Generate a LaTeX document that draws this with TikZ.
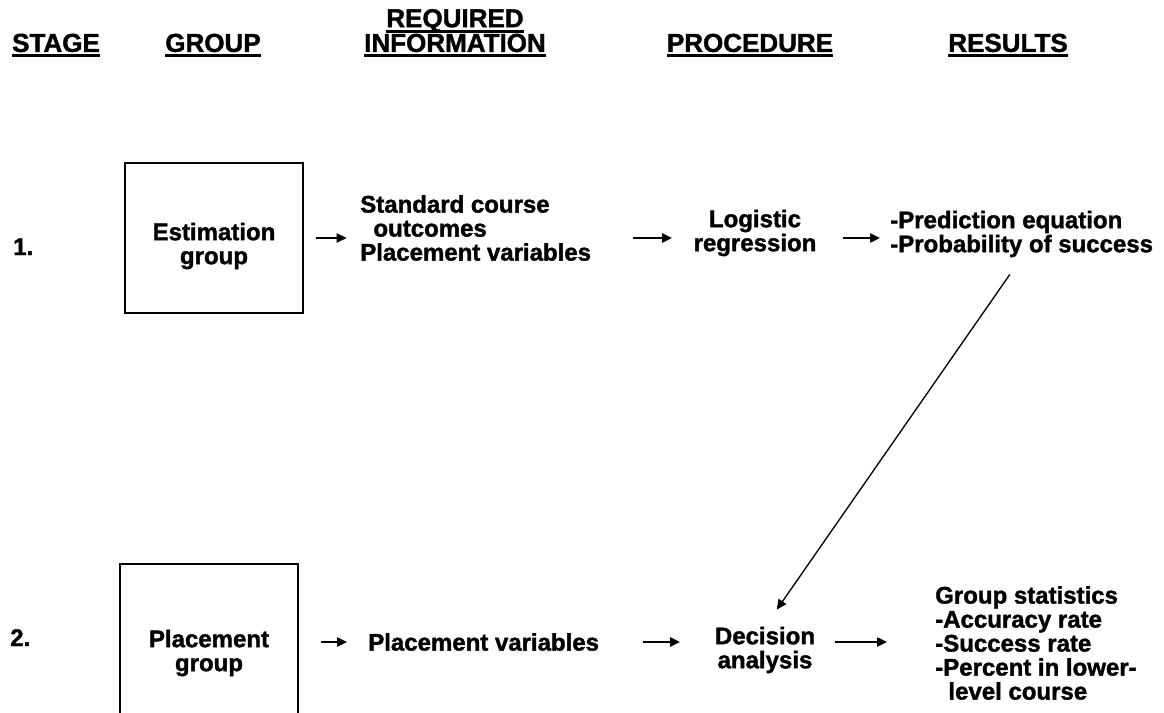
\documentclass[tikz,border=0pt]{standalone}
\usepackage{fontspec}
\setmainfont{Liberation Sans}[BoldFeatures={FakeBold=1.5}]
\usetikzlibrary{arrows.meta, positioning}
\newcommand{\hdrul}[1]{\setbox0\hbox{#1}\rlap{\rule[-4pt]{\wd0}{2.2pt}}\box0}
\tikzset{
    font=\bfseries\fontsize{18}{18}\selectfont,
    % --- labels ---
    header/.style={inner sep=0pt, align=center, anchor=south,
        font=\bfseries\fontsize{19.5}{18.5}\selectfont},
    stageNum/.style={inner sep=0pt, anchor=base west},
    infoText/.style={inner sep=0pt, align=left, anchor=west},
    procText/.style={inner sep=0pt, align=center},
    %
    % --- group boxes ---
    groupBox/.style={
        rectangle, draw, line width=1pt,
        minimum width=133.5pt, inner sep=0pt
    },
    %
    % --- arrows ---
    conn/.style={
        draw, line width=1pt,
        -{Triangle[length=7.5pt, width=7pt]}
    }
}

\begin{document}
\begin{tikzpicture}[x=0.75pt, y=-0.75pt]
	\useasboundingbox (0,0) rectangle (1164,713);
	\clip (0,0) rectangle (1164,713);

	% =========================================
	% 1. column headers
	% =========================================
	\node [header] (hStage) at (56,57.5) {\hdrul{STAGE}};
	\node [header] (hGroup) at (213,57.5) {\hdrul{GROUP}};
	\node [header] (hInfo) at (455,57.5) {\hdrul{REQUIRED}\\\hdrul{INFORMATION}};
	\node [header] (hProc) at (750,57.5) {\hdrul{PROCEDURE}};
	\node [header] (hRes) at (1008,57.5) {\hdrul{RESULTS}};

	% =========================================
	% 2. stage 1
	% =========================================
	\node [stageNum] (one) at (13,255) {1.};

	\node [groupBox, minimum height=112.5pt] (est) at (214,238) {};
	\node [procText] (estLbl) at (214,246) {Estimation\\group};

	\node [infoText] (stdInfo) at (360,228) {Standard course\\\hspace*{0.55em}outcomes\\Placement variables};

	\node [procText] (logit) at (755,233) {Logistic\\regression};

	\node [infoText] (predRes) at (890,234) {-Prediction equation\\-Probability of success};

	% =========================================
	% 3. stage 2
	% =========================================
	\node [stageNum] (two) at (10,646) {2.};

	\node [groupBox, minimum height=124.5pt] (place) at (209,647) {};
	\node [procText] (placeLbl) at (209,653) {Placement\\group};

	\node [infoText] (plVar) at (368,642) {Placement variables};

	\node [procText] (decide) at (765,650) {Decision\\analysis};

	\node [infoText] (grpRes) at (935,643) {Group statistics\\-Accuracy rate\\-Success rate\\-Percent in lower-\\\hspace*{0.55em}level course};

	% =========================================
	% 4. arrows
	% =========================================
	\draw [conn, shorten <=9pt, shorten >=10pt] (est.east) -- (stdInfo.west |- est.east);
	\draw [conn, shorten <=31pt, shorten >=16pt] (stdInfo.east |- est.east) -- (logit.west |- est.east);
	\draw [conn, shorten <=19.5pt, shorten >=7.5pt] (logit.east |- est.east) -- (predRes.west |- est.east);

	\draw [conn, shorten <=16.5pt, shorten >=15.75pt] (place.east |- plVar.west) -- (plVar.west);
	\draw [conn, shorten <=33pt, shorten >=26pt] (plVar.east) -- (decide.west |- plVar.east);
	\draw [conn, shorten <=15pt, shorten >=36pt] (decide.east |- plVar.east) -- (grpRes.west |- plVar.east);

	% results feed the decision analysis
	\draw [conn, shorten <=15.5pt, shorten >=15.5pt] (predRes.south) -- (decide.north);

\end{tikzpicture}
\end{document}
